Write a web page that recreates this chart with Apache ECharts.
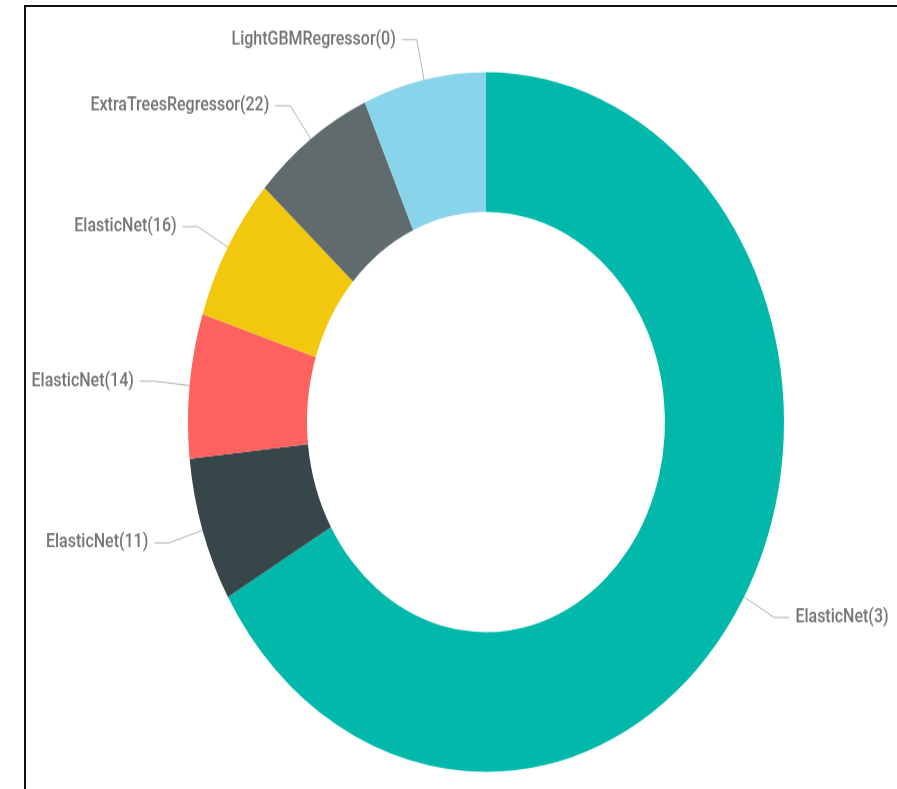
<!DOCTYPE html>
<html>
    <head>
        <meta charset="utf-8">
        <script src="https://cdn.jsdelivr.net/npm/echarts@6/dist/echarts.min.js"></script>
    </head>
    <body>
        <style>
            html, body {
                width: 100%;
                height: 100%;
                margin: 0;
                background: #fff;
                overflow: hidden;
            }
            #frame {
                position: absolute;
                left: 24px;
                top: 5px;
                right: 0;
                bottom: 0;
                border-left: 2px solid #111;
                border-top: 2px solid #111;
            }
            /* the reference picture is stretched vertically, so stretch the chart too */
            #main {
                position: absolute;
                left: 0;
                top: 0;
                width: 897px;
                height: 672px;
                transform: scaleY(1.174);
                transform-origin: 0 0;
            }
        </style>
        <div id='frame'></div>
        <div id='main'></div>
        <script>
        var models = ['ElasticNet(3)', 'ElasticNet(11)', 'ElasticNet(14)', 'ElasticNet(16)', 'ExtraTreesRegressor(22)', 'LightGBMRegressor(0)'];
        var counts = [10, 1, 1, 1, 1, 1];
        var colors = ['#01B8AA', '#374649', '#FD625E', '#F2C80F', '#5F6B6D', '#8AD4EB'];

        var dataOne = [];
        for (var i = 0; i < models.length; i++) {
            dataOne.push({ name: models[i], value: counts[i], itemStyle: { color: colors[i] } });
        }

        var chart = echarts.init(document.getElementById('main'));
        var option = {
            animation: false,
            series: [{
                type: 'pie',
                center: [486, 359.5],
                radius: [179, 298],
                startAngle: 90,
                clockwise: true,
                avoidLabelOverlap: false,
                itemStyle: { borderWidth: 0 },
                label: {
                    show: true,
                    formatter: '{b}',
                    color: '#747474',
                    fontFamily: 'Roboto',
                    fontWeight: 500,
                    fontSize: 16,
                    distanceToLabelLine: 6
                },
                labelLine: {
                    show: true,
                    length: 35,
                    length2: 15,
                    lineStyle: { color: '#b4b4b4', width: 1 }
                },
                emphasis: { scale: false },
                data: dataOne
            }]
        };
        chart.setOption(option);
        </script>
    </body>
</html>
